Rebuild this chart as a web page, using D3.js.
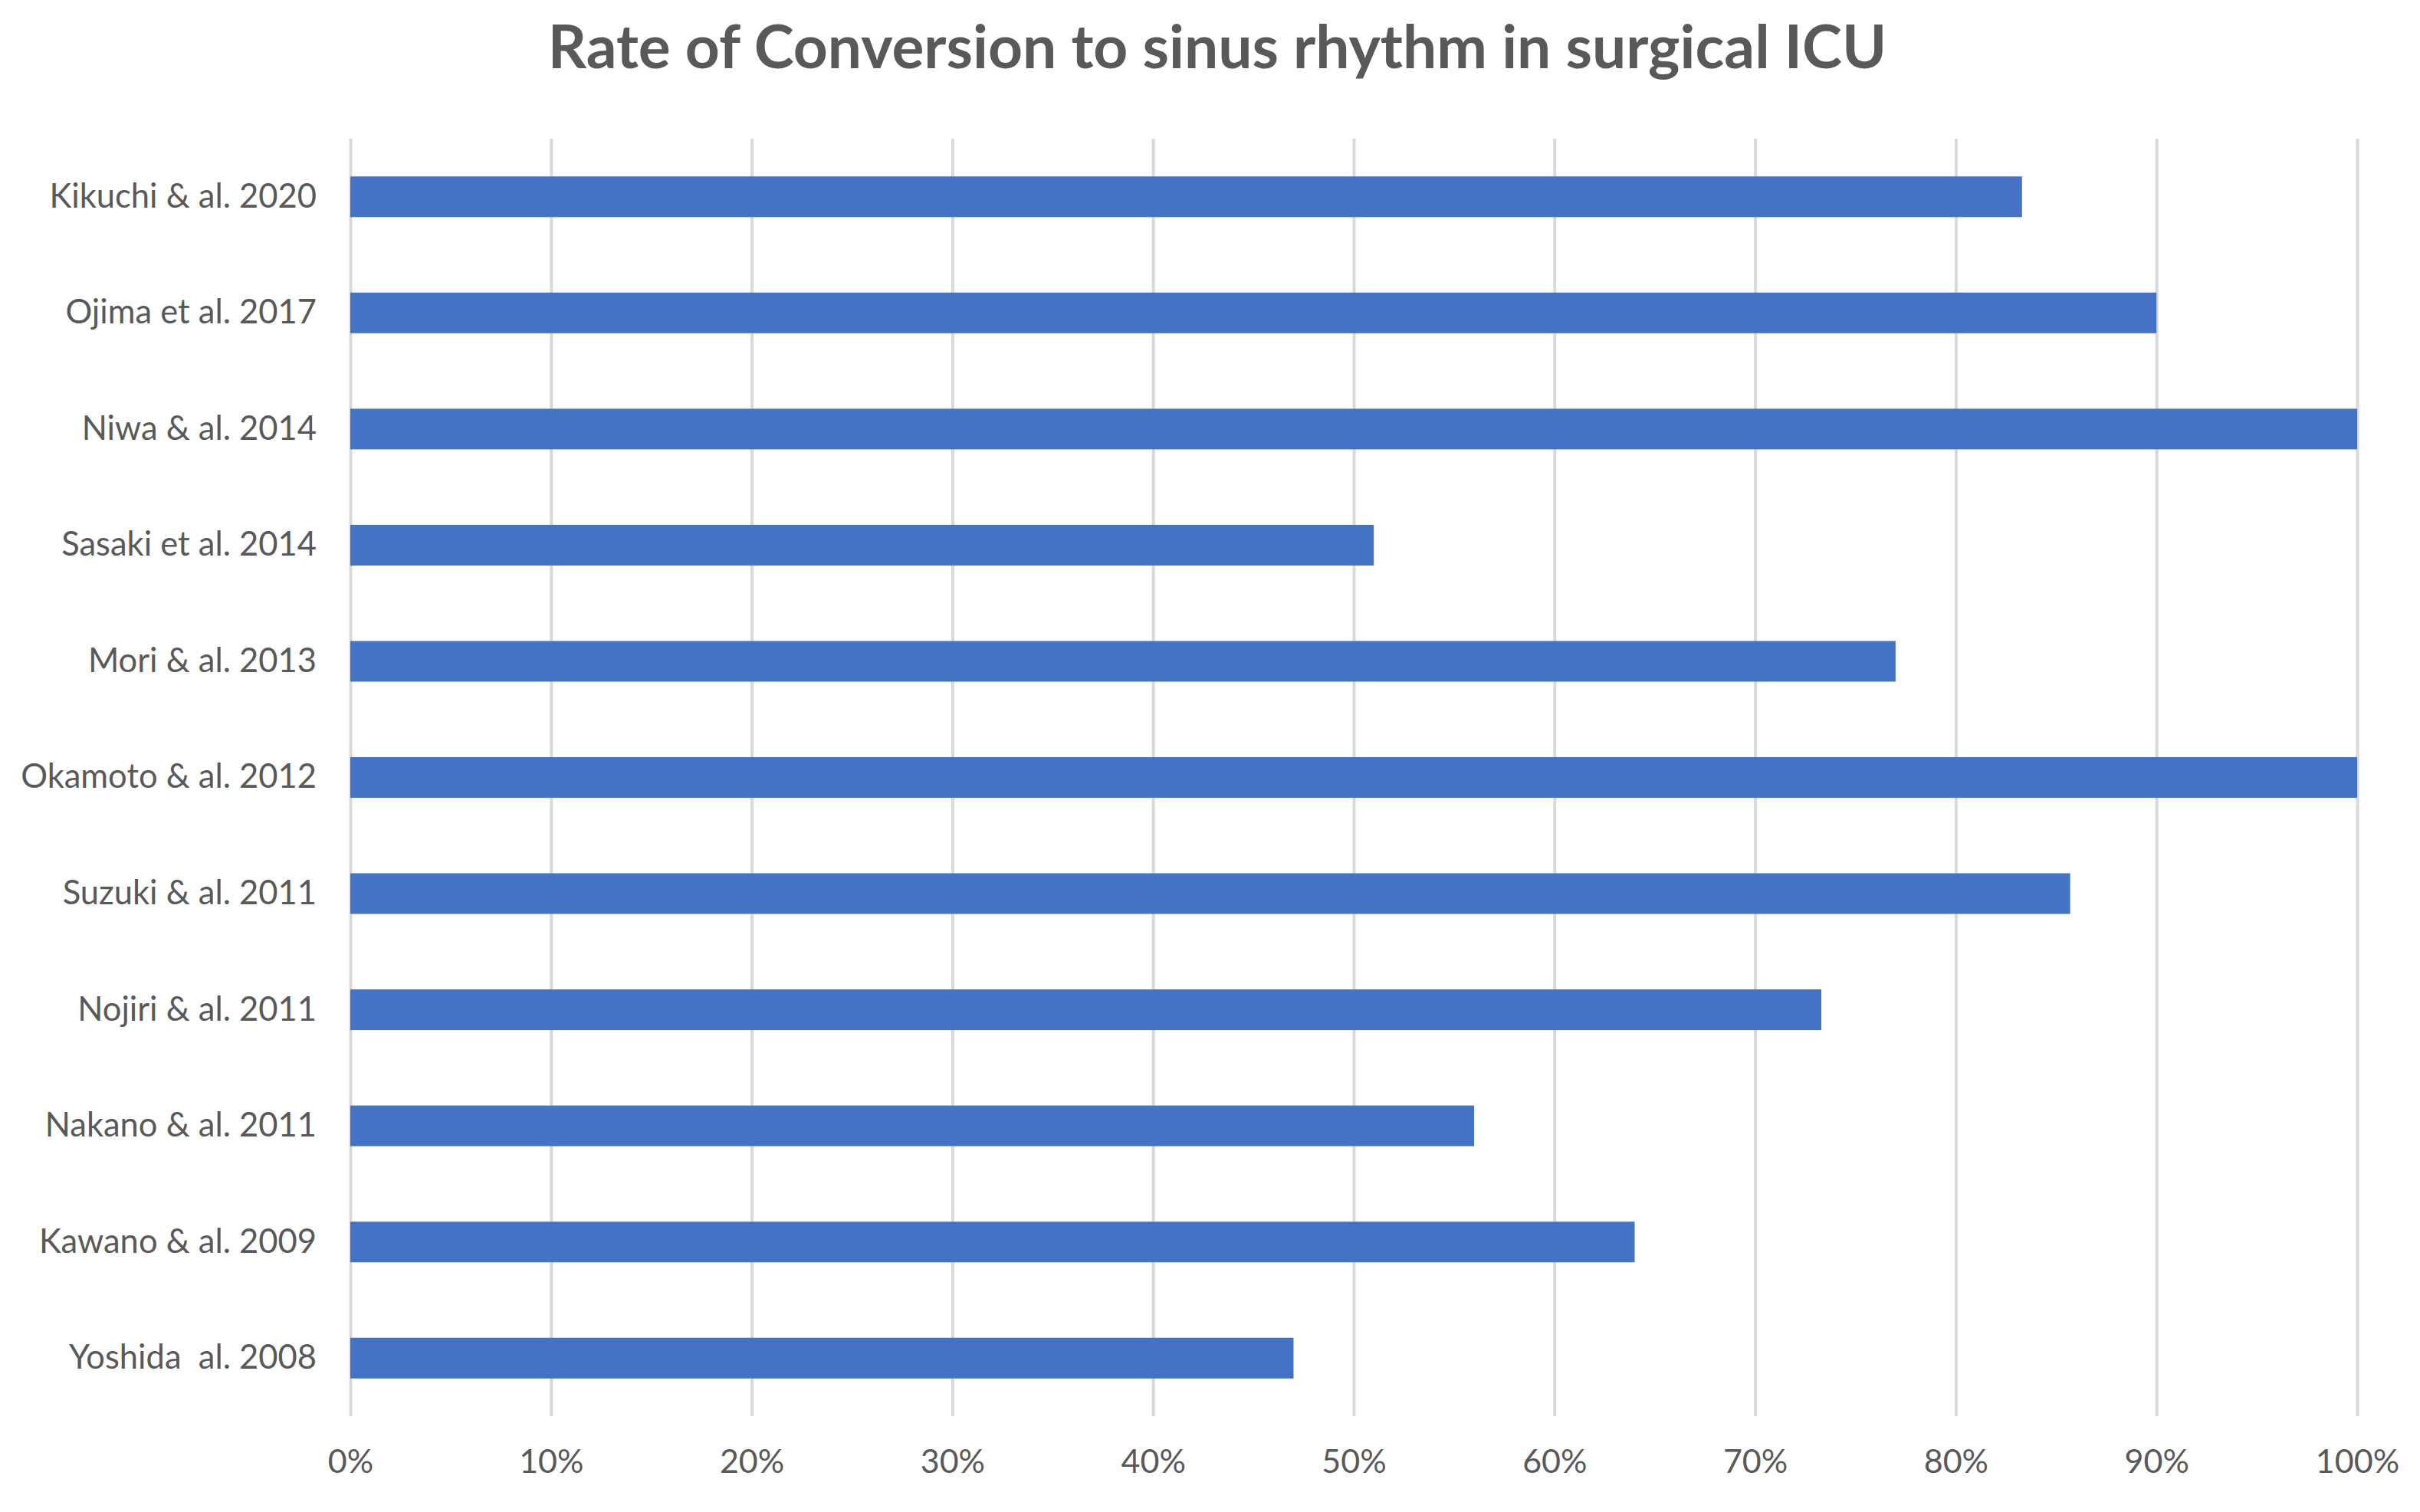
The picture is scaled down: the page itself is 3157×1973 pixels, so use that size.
<!DOCTYPE html>
<html>
<head>
<meta charset="utf-8">
<script src="https://cdn.jsdelivr.net/npm/d3@7"></script>
<style>
  body { margin: 0; background: #fff; }
  text { font-family: Lato, "Open Sans", sans-serif; fill: #595959; }
</style>
</head>
<body>
<script>
// data
const studies = ["Kikuchi & al. 2020", "Ojima et al. 2017", "Niwa & al. 2014", "Sasaki et al. 2014",
  "Mori & al. 2013", "Okamoto & al. 2012", "Suzuki & al. 2011", "Nojiri & al. 2011",
  "Nakano & al. 2011", "Kawano & al. 2009", "Yoshida  al. 2008"];
const conversionRate = [0.833, 0.90, 1.00, 0.51, 0.77, 1.00, 0.857, 0.733, 0.56, 0.64, 0.47];
const tickValues = [0, 0.1, 0.2, 0.3, 0.4, 0.5, 0.6, 0.7, 0.8, 0.9, 1.0];
const title = "Rate of Conversion to sinus rhythm in surgical ICU";

const width = 3157, height = 1973;
const plotLeft = 457, plotRight = 3075, plotTop = 181, plotBottom = 1848;

const svg = d3.select("body").append("svg")
    .attr("width", width)
    .attr("height", height);

let x = d3.scaleLinear()
    .domain([0, 1])
    .range([plotLeft, plotRight]);

let y = d3.scaleBand()
    .domain(studies)
    .range([plotTop, plotBottom])
    .paddingInner(0.65)
    .paddingOuter(0.325);

// vertical gridlines + percent labels
let xAxis = svg.append("g")
    .attr("transform", "translate(0," + plotBottom + ")")
    .call(d3.axisBottom(x)
        .tickValues(tickValues)
        .tickSize(-(plotBottom - plotTop))
        .tickFormat(d3.format(".0%")));
xAxis.select(".domain").remove();
xAxis.selectAll("line")
    .attr("stroke", "#d9d9d9")
    .attr("stroke-width", 4);
xAxis.selectAll("text")
    .attr("y", 59)
    .attr("dy", "0.35em")
    .attr("font-size", 43)
    .attr("fill", "#595959");

// bars
svg.selectAll("rect.bar")
    .data(conversionRate)
    .enter().append("rect")
    .attr("class", "bar")
    .attr("x", x(0))
    .attr("y", (d, i) => y(studies[i]))
    .attr("width", d => x(d) - x(0))
    .attr("height", y.bandwidth())
    .attr("fill", "#4472c4");

// category labels
let yAxis = svg.append("g")
    .attr("transform", "translate(" + plotLeft + ",0)")
    .call(d3.axisLeft(y).tickSize(0).tickPadding(44));
yAxis.select(".domain").remove();
yAxis.selectAll("text")
    .attr("font-size", 43.5)
    .attr("fill", "#595959")
    .style("white-space", "pre");

svg.append("text")
    .attr("x", 1588)
    .attr("y", 89)
    .attr("text-anchor", "middle")
    .attr("font-size", 78.5)
    .attr("font-weight", "bold")
    .text(title);
</script>
</body>
</html>
